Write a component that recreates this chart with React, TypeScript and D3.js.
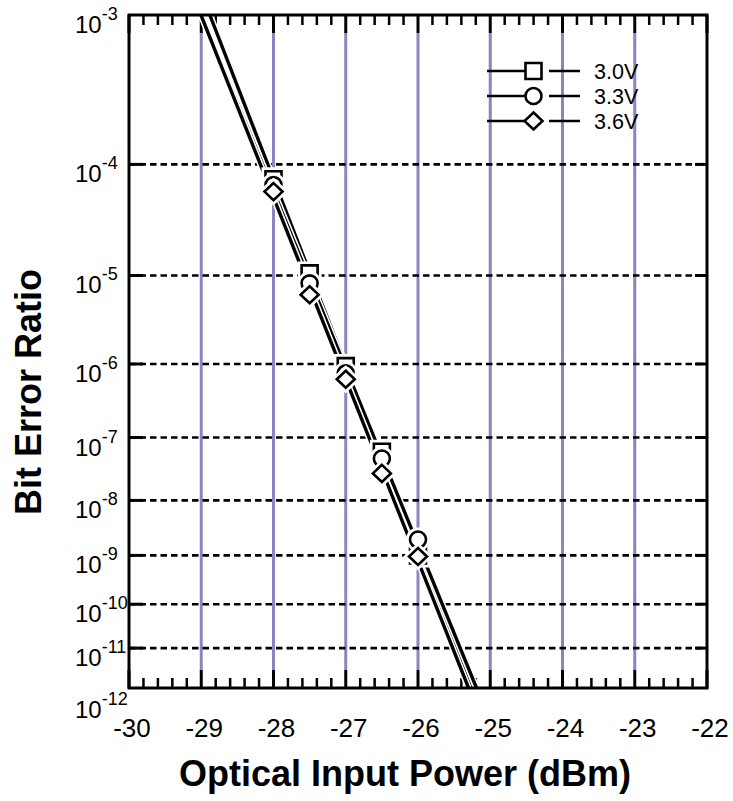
import React from "react";
import * as d3 from "d3";

const xTickValues = [-30, -29, -28, -27, -26, -25, -24, -23, -22];
const yTickExponents = [-3, -4, -5, -6, -7, -8, -9, -10, -11, -12];
const powerDbm = [-28, -27.5, -27, -26.5, -26];
const ber30V = [7.6e-5, 1.05e-5, 9.4e-7, 6.1e-8, 1.0e-9];
const ber33V = [6.8e-5, 8.3e-6, 7.6e-7, 4.8e-8, 2.0e-9];
const ber36V = [6.0e-5, 6.3e-6, 6.4e-7, 2.8e-8, 9.5e-10];
const seriesLabels = ["3.0V", "3.3V", "3.6V"];
const seriesSymbols = ["square", "circle", "diamond"];

const W = 733, H = 801;
const L = 129, T = 15, R = 707, B = 688;
const FONT = "'Liberation Sans', Arial, Helvetica, sans-serif";

// BER-style axis: position linear in log10(-log10(BER) - c)
const tf = (v: number) => Math.log10(-Math.log10(v) - 0.55);
const x = d3.scaleLinear().domain([-30, -22]).range([L, R]);
const y = d3.scaleLinear().domain([tf(1e-3), tf(1e-12)]).range([T, B]);

function markerPath(kind: string): string {
  if (kind === "square") return "M-8,-8H8V8H-8Z";
  if (kind === "circle") {
    const p = d3.path();
    p.arc(0, 0, 8, 0, Math.PI * 2);
    p.closePath();
    return p.toString();
  }
  return "M0,-8.5L9,0L0,8.5L-9,0Z";
}

function fitLine(xs: number[], vs: number[]) {
  const us = vs.map(tf);
  const mx = d3.mean(xs) as number;
  const mu = d3.mean(us) as number;
  let sxy = 0, sxx = 0;
  xs.forEach((xv, i) => {
    sxy += (xv - mx) * (us[i] - mu);
    sxx += (xv - mx) * (xv - mx);
  });
  const slope = sxy / sxx;
  const uTop = tf(1e-3), uBot = tf(1e-12);
  const xTop = mx + (uTop - mu) / slope;
  const xBot = mx + (uBot - mu) / slope;
  return [
    [x(xTop), y(uTop)],
    [x(xBot), y(uBot)],
  ] as [number, number][];
}

export default function App() {
  const series = [ber30V, ber33V, ber36V];
  const minorTicks = d3
    .range(0, 41)
    .map((i) => -30 + i * 0.2)
    .filter((v, i) => i % 5 !== 0);
  const lineGen = d3.line();
  const legendRows = [71, 96, 121];

  return (
    <svg
      width={W}
      height={H}
      style={{ position: "absolute", left: 0, top: 0, background: "#fff" }}
      fontFamily={FONT}
    >
      <rect x={0} y={0} width={W} height={H} fill="#fff" />
      {/* vertical purple grid */}
      {xTickValues.slice(1, -1).map((v) => (
        <line key={"vg" + v} x1={x(v)} x2={x(v)} y1={T + 18} y2={B - 18} stroke="#8a85c1" strokeWidth={3} />
      ))}
      {/* horizontal dashed grid */}
      {yTickExponents.slice(1, -1).map((e) => (
        <g key={"hg" + e}>
          <line x1={L} x2={R} y1={y(tf(Math.pow(10, e)))} y2={y(tf(Math.pow(10, e)))} stroke="#000" strokeWidth={2.6} strokeDasharray="6.5,4" />
          <line x1={L} x2={L + 14} y1={y(tf(Math.pow(10, e)))} y2={y(tf(Math.pow(10, e)))} stroke="#000" strokeWidth={3} />
          <line x1={R - 12} x2={R} y1={y(tf(Math.pow(10, e)))} y2={y(tf(Math.pow(10, e)))} stroke="#000" strokeWidth={3} />
        </g>
      ))}
      {/* x ticks */}
      {xTickValues.map((v) => (
        <g key={"xt" + v}>
          <line x1={x(v)} x2={x(v)} y1={T} y2={T + 18} stroke="#000" strokeWidth={3} />
          <line x1={x(v)} x2={x(v)} y1={B} y2={B - 18} stroke="#000" strokeWidth={3} />
        </g>
      ))}
      {minorTicks.map((v, i) => (
        <g key={"mt" + i}>
          <line x1={x(v)} x2={x(v)} y1={T} y2={T + 10} stroke="#000" strokeWidth={2.5} />
          <line x1={x(v)} x2={x(v)} y1={B} y2={B - 10} stroke="#000" strokeWidth={2.5} />
        </g>
      ))}
      {/* data lines */}
      <defs>
        <clipPath id="plotClip">
          <rect x={L} y={T} width={R - L} height={B - T} />
        </clipPath>
      </defs>
      <g clipPath="url(#plotClip)">
        {series.map((s, i) => {
          const d = lineGen(fitLine(powerDbm, s)) as string;
          return (
            <g key={"ln" + i}>
              <path d={d} stroke="#fff" strokeWidth={6.5} fill="none" />
              <path d={d} stroke="#000" strokeWidth={3.4} fill="none" />
            </g>
          );
        })}
      </g>
      {/* markers */}
      {series.map((s, i) => (
        <g key={"mk" + i}>
          {s.map((v, j) => (
            <g key={j} transform={`translate(${x(powerDbm[j])},${y(tf(v))})`}>
              <path d={markerPath(seriesSymbols[i])} fill="#fff" stroke="#fff" strokeWidth={8} />
              <path d={markerPath(seriesSymbols[i])} fill="#fff" stroke="#000" strokeWidth={2.6} />
            </g>
          ))}
        </g>
      ))}
      {/* frame */}
      <rect x={L} y={T} width={R - L} height={B - T} fill="none" stroke="#000" strokeWidth={3} />
      {/* legend */}
      {seriesLabels.map((lab, i) => (
        <g key={"lg" + i}>
          <line x1={487} x2={533} y1={legendRows[i]} y2={legendRows[i]} stroke="#000" strokeWidth={2.5} />
          <line x1={549} x2={580} y1={legendRows[i]} y2={legendRows[i]} stroke="#000" strokeWidth={2.5} />
          <path d={markerPath(seriesSymbols[i])} transform={`translate(533.5,${legendRows[i]})`} fill="#fff" stroke="#000" strokeWidth={2.6} />
          <text x={594} y={legendRows[i] + 8} fontSize={21.5} fill="#000">
            {lab}
          </text>
        </g>
      ))}
      {/* y tick labels */}
      {yTickExponents.map((e) => {
        const ty = y(tf(Math.pow(10, e))) + (e === -12 ? 30 : 18);
        return (
          <text key={"yl" + e} x={75} y={ty} fontSize={24} fill="#000">
            10
            <tspan fontSize={18} dy={-13}>
              {String(e)}
            </tspan>
          </text>
        );
      })}
      {/* x tick labels */}
      {xTickValues.map((v) => (
        <text key={"xl" + v} x={x(v) + 3} y={737} fontSize={26} textAnchor="middle" fill="#000">
          {String(v)}
        </text>
      ))}
      {/* axis titles */}
      <text x={405} y={786} fontSize={36} fontWeight="bold" textAnchor="middle" fill="#000">
        Optical Input Power (dBm)
      </text>
      <text transform="translate(41,392) rotate(-90)" fontSize={36} fontWeight="bold" textAnchor="middle" fill="#000">
        Bit Error Ratio
      </text>
    </svg>
  );
}
